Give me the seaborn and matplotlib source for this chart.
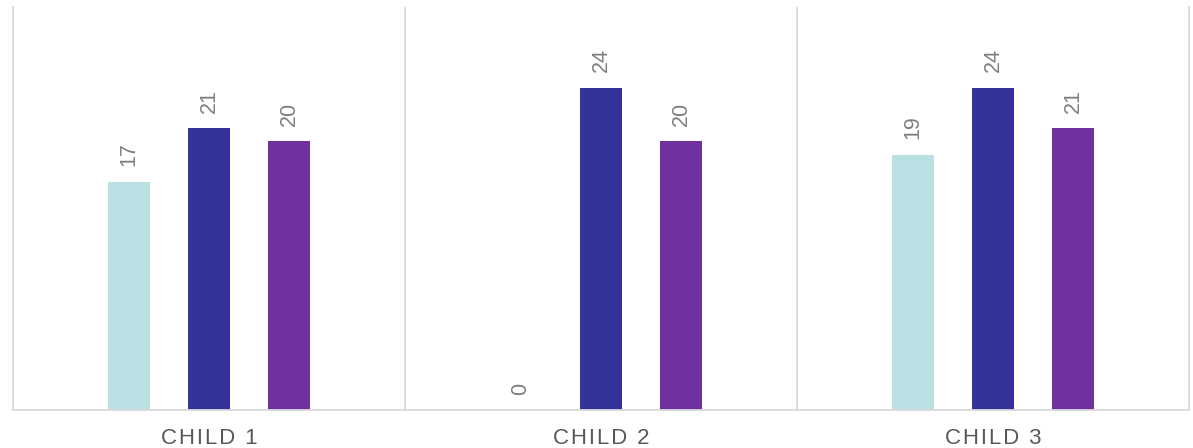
import matplotlib
matplotlib.use("Agg")
import matplotlib.pyplot as plt
import seaborn as sns
import pandas as pd

# Chart data
children = ["CHILD 1", "CHILD 2", "CHILD 3"]
series_names = ["Series 1", "Series 2", "Series 3"]
series_1 = [17, 0, 19]
series_2 = [21, 24, 24]
series_3 = [20, 20, 21]
palette = ["#BBE0E3", "#333399", "#7030A0"]

rows = []
for name, vals in zip(series_names, [series_1, series_2, series_3]):
    for child, v in zip(children, vals):
        rows.append({"child": child, "series": name, "value": v})
df = pd.DataFrame(rows)

sns.set_theme(style="white")
plt.rcParams["font.family"] = ["Liberation Sans", "DejaVu Sans"]

fig = plt.figure(figsize=(11.93, 4.48), dpi=100)
ax = fig.add_axes([13 / 1193, 38 / 448, 1176 / 1193, 403 / 448])

sns.barplot(
    data=df, x="child", y="value", hue="series", order=children,
    hue_order=series_names, palette=palette, width=0.615, gap=0.48,
    saturation=1, legend=False, ax=ax, edgecolor="none",
)

for cont in ax.containers:
    ax.bar_label(cont, fmt="%d", rotation=90, padding=11,
                 fontsize=15.5, color="#7F7F7F")

ax.set_xlim(-0.5, 2.5)
ax.set_ylim(0, 30)
ax.set_xlabel("")
ax.set_ylabel("")
ax.set_yticks([])


def tracked(text):
    # widen letter spacing of category names with hair spaces
    return "\u200a".join(text)


ax.set_xticks(range(len(children)))
ax.set_xticklabels([tracked(c) for c in children])

grid_color = "#D9D9D9"
for x in [0.5, 1.5]:
    ax.axvline(x, color=grid_color, lw=1.3, zorder=0)
for side in ["left", "right", "bottom"]:
    ax.spines[side].set_visible(True)
    ax.spines[side].set_color(grid_color)
    ax.spines[side].set_linewidth(1.3)
ax.spines["top"].set_visible(False)

ax.tick_params(axis="x", length=0, pad=13, labelsize=16, labelcolor="#595959")

fig.savefig("out.png", dpi=100)
